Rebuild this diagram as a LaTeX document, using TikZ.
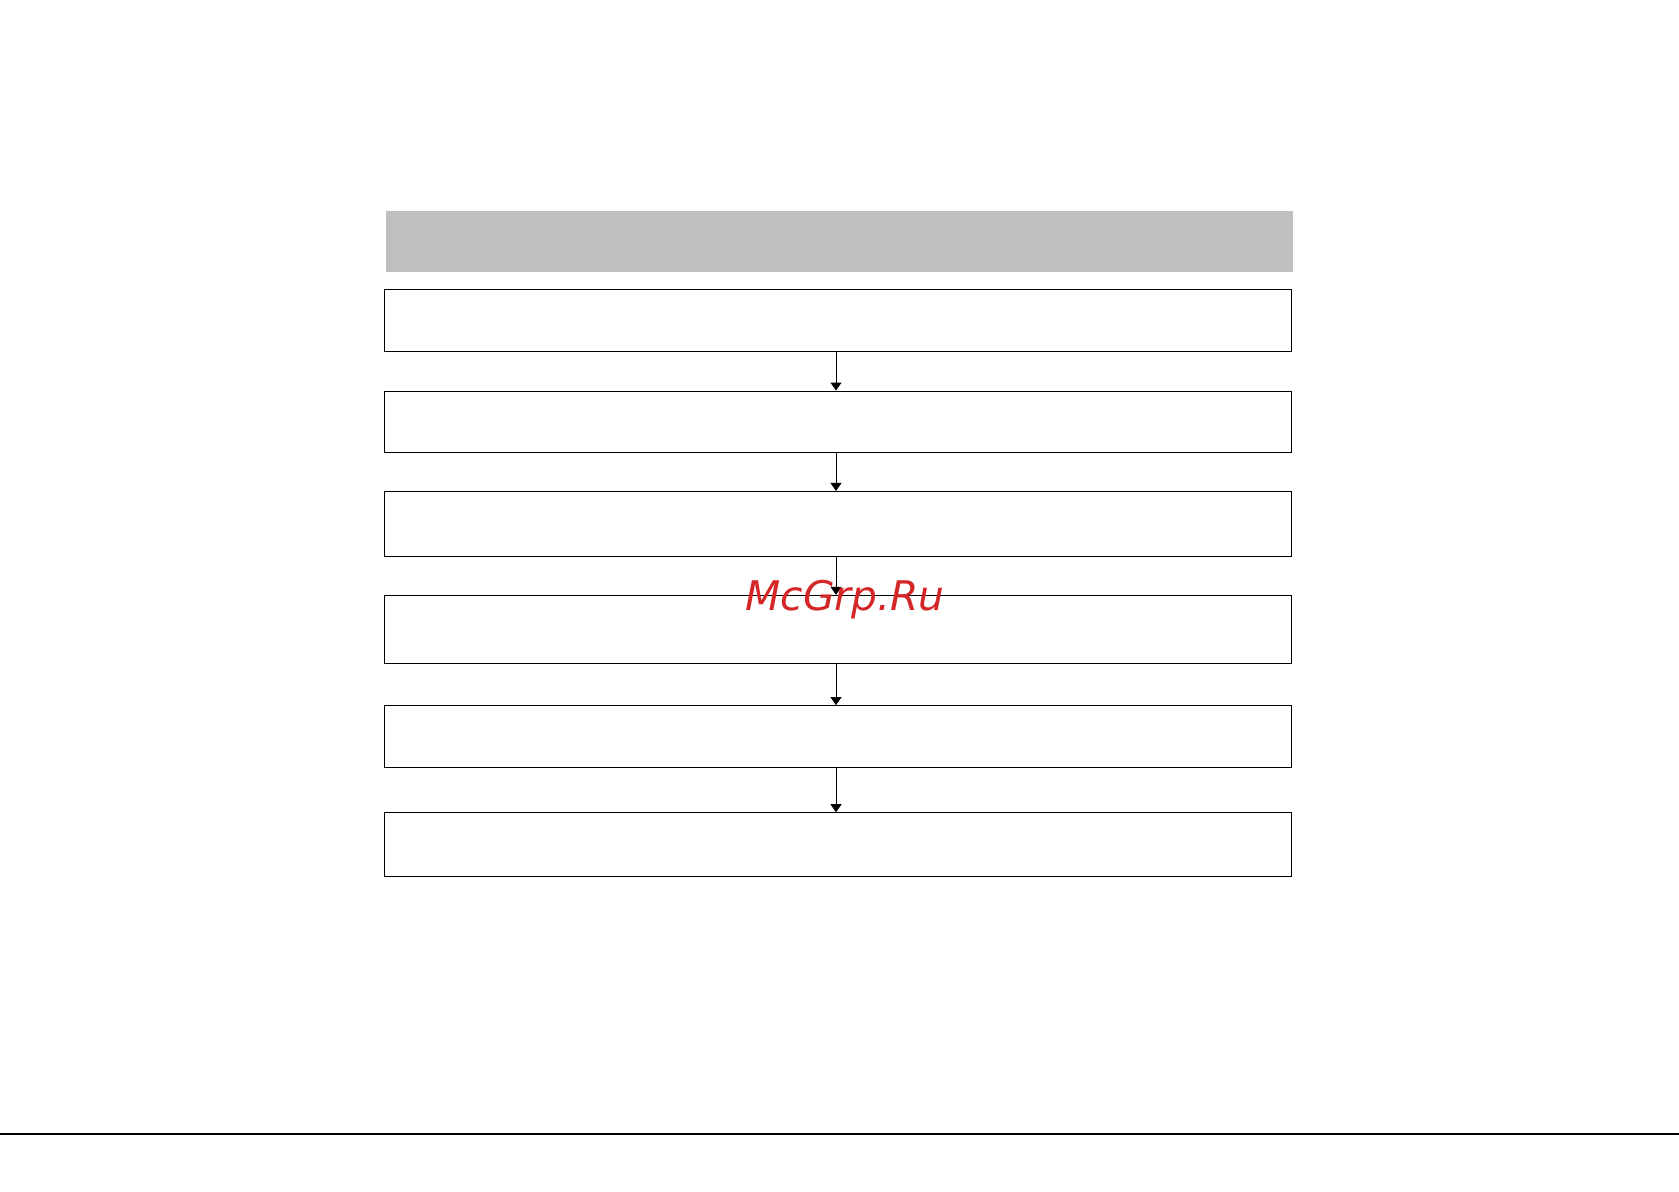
\documentclass[tikz,border=0pt]{standalone}
\usepackage{fontspec}
\newfontfamily\markfont{DejaVu Sans}
\usetikzlibrary{arrows.meta}
\definecolor{headgray}{RGB}{191,191,191}
\definecolor{markred}{RGB}{212,38,38}

\begin{document}
\begin{tikzpicture}[x=0.5pt, y=-0.5pt,
    flowbox/.style={draw, line width=0.5pt, rectangle, minimum width=453.5pt, inner sep=0pt},
    flowarrow/.style={-{Triangle[length=4pt, width=5.5pt]}, line width=0.5pt}]
      %% \draw [help lines, opacity=0.5] (0,0) grid[step=100] (1679,1191);
      \useasboundingbox (0,0) rectangle (1679,1191);

      \node [fill=headgray, rectangle, minimum width=453.5pt, minimum height=30.5pt, inner sep=0pt] (head) at (839,241) {};

      \node [flowbox, minimum height=31pt] (b1) at (838,320) {};
      \node [flowbox, minimum height=30.5pt] (b2) at (838,421.5) {};
      \node [flowbox, minimum height=32.6pt] (b3) at (838,524) {};
      \node [flowbox, minimum height=34.2pt] (b4) at (838,629.5) {};
      \node [flowbox, minimum height=31pt] (b5) at (838,736.6) {};
      \node [flowbox, minimum height=32.1pt] (b6) at (838,844.8) {};

      \foreach \a/\b in {b1/b2,b2/b3,b3/b4,b4/b5,b5/b6}
        \draw [flowarrow] ([xshift=-1pt]\a.south) -- ([xshift=-1pt]\b.north);

      \draw [line width=0.6pt] (0,1134) -- (1679,1134);

      \node [anchor=base, inner sep=0pt, text=markred, font=\markfont\itshape\fontsize{20.4pt}{24pt}\selectfont] (mark) at (845,610) {McGrp.Ru};

   \end{tikzpicture}
\end{document}
